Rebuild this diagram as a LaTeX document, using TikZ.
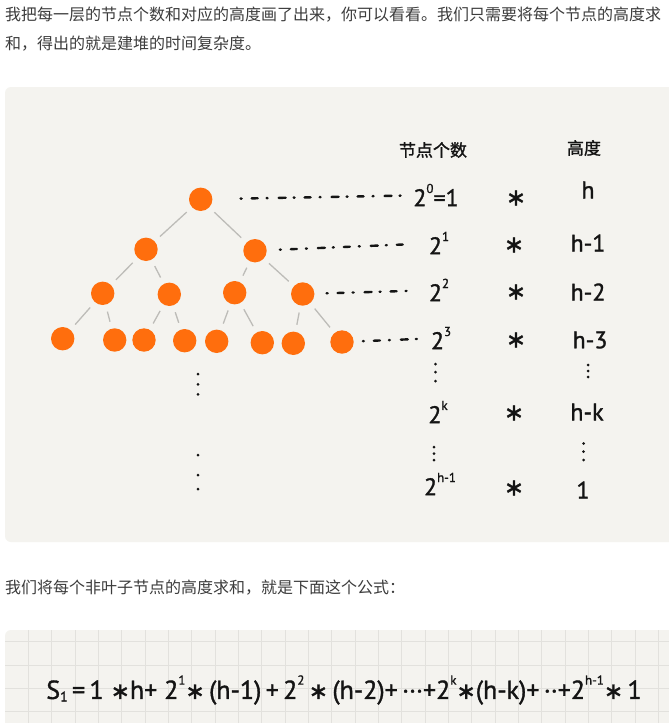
\documentclass[tikz,border=0pt]{standalone}
\usepackage{fontspec}
\setmainfont{PT Sans}
\newfontfamily\hand[FakeBold=1.3]{PT Sans}
\newfontfamily\cjk{Noto Sans CJK SC}
\newfontfamily\cjkhand[FakeBold=1.5]{Noto Sans CJK SC}
\newfontfamily\starfont[FakeBold=1.5]{DejaVu Sans}
\definecolor{panel}{HTML}{F4F3EF}
\definecolor{gridc}{HTML}{E2E1DD}
\definecolor{txt}{HTML}{3C3C3C}
\definecolor{orng}{HTML}{FF6E0D}
\definecolor{edgec}{HTML}{BDBCB8}
\definecolor{ink}{HTML}{141414}
\newcommand\hsup[1]{\raisebox{0.55em}{\fontsize{13}{13}\selectfont #1}}
\newcommand\fstar{{\starfont\fontsize{23}{23}\selectfont ∗}}
\tikzset{
  tn/.style={circle, fill=orng, minimum size=23.4pt, inner sep=0pt},
  tedge/.style={draw=edgec, line width=1.3pt, shorten <=7pt, shorten >=7pt},
  para/.style={font=\cjk\fontsize{16}{16}\selectfont, text=txt, anchor=west, inner sep=0pt},
  hw/.style={font=\hand\fontsize{24}{24}\selectfont, text=ink, inner sep=0pt},
  hstar/.style={font=\starfont\fontsize{24}{24}\selectfont, text=ink, inner sep=0pt},
  hhead/.style={font=\cjkhand\fontsize{17}{17}\selectfont, text=ink, inner sep=0pt},
  dotline/.style={draw=ink, line width=2.4pt, line cap=round, dash pattern=on 1pt off 10pt on 6pt off 9pt on 1pt off 11pt on 7pt off 8pt},
  vdot/.style={fill=ink},
  gridline/.style={draw=gridc, line width=0.9pt}
}
\begin{document}
\begin{tikzpicture}[x=1pt,y=-1pt]
\useasboundingbox (0,0) rectangle (669,723);
\fill[white] (0,0) rectangle (669,723);
\begin{scope}
\clip (0,0) rectangle (669,723);
\fill[panel, rounded corners=6pt] (5,87) rectangle (700,542);
\fill[panel, rounded corners=6pt] (5,630) rectangle (700,760);
\clip[rounded corners=6pt] (5,630) rectangle (700,760);
\foreach \k in {0,...,27} \draw[gridline] (28.33+23.333*\k,630) -- ++(0,100);
\foreach \k in {0,...,4} \draw[gridline] (5,641.67+23.333*\k) -- (669,641.67+23.333*\k);
\end{scope}

% paragraphs
\node[para] (p1) at (5,15) {我把每一层的节点个数和对应的高度画了出来，你可以看看。我们只需要将每个节点的高度求};
\node[para] (p2) at (5,44) {和，得出的就是建堆的时间复杂度。};
\node[para] (p3) at (5,588) {我们将每个非叶子节点的高度求和，就是下面这个公式：};

% tree
\node[tn] (n0) at (200.7,199.3) {};
\node[tn] (n1a) at (146,249.3) {};
\node[tn] (n1b) at (255,250.7) {};
\node[tn] (n2a) at (102.7,293.3) {};
\node[tn] (n2b) at (169.3,294.3) {};
\node[tn] (n2c) at (234.7,292.7) {};
\node[tn] (n2d) at (302.7,294) {};
\node[tn] (n3a) at (62.7,338.7) {};
\node[tn] (n3b) at (114.7,340) {};
\node[tn] (n3c) at (144,340) {};
\node[tn] (n3d) at (184.7,340.7) {};
\node[tn] (n3e) at (216.7,341.3) {};
\node[tn] (n3f) at (262.3,342.7) {};
\node[tn] (n3g) at (293.3,343.3) {};
\node[tn] (n3h) at (342,342) {};
\foreach \a/\b in {n0/n1a,n0/n1b,n1a/n2a,n1a/n2b,n1b/n2c,n1b/n2d,n2a/n3a,n2a/n3b,n2b/n3c,n2b/n3d,n2c/n3e,n2c/n3f,n2d/n3g,n2d/n3h}
  \draw[tedge] (\a) -- (\b);

% vertical dots under tree
\foreach \y in {374,384.3,394.3,455,475,489} \fill[vdot] (198,\y) circle (1.5pt);

% headers
\node[hhead] (hd1) at (433,150) {节点个数};
\node[hhead] (hd2) at (584,148) {高度};

% counts
\node[hw] (c0) at (436,195) {2\hsup{0}=1};
\node[hw] (c1) at (439,243) {2\hsup{1}};
\node[hw] (c2) at (439,290) {2\hsup{2}};
\node[hw] (c3) at (441,338) {2\hsup{3}};
\node[hw] (ck) at (438,412) {2\hsup{k}};
\node[hw] (ch) at (440,484) {2\hsup{h-1}};

% stars
\node[hstar] (s0) at (516,198) {∗};
\node[hstar] (s1) at (514,245) {∗};
\node[hstar] (s2) at (516,292) {∗};
\node[hstar] (s3) at (516,340) {∗};
\node[hstar] (sk) at (514,413) {∗};
\node[hstar] (sh) at (514,488) {∗};

% heights
\node[hw] (h0) at (588,190) {h};
\node[hw] (h1) at (588,243) {h-1};
\node[hw] (h2) at (588,292) {h-2};
\node[hw] (h3) at (590,340) {h-3};
\node[hw] (hk) at (587,412) {h-k};
\node[hw] (hh) at (583,490) {1};

% vertical dots in columns
\foreach \y in {364,372,381} \fill[vdot] (435.5,\y) circle (1.5pt);
\foreach \y in {365,371,377} \fill[vdot] (588,\y) circle (1.5pt);
\foreach \y in {447,453.5,460} \fill[vdot] (434,\y) circle (1.5pt);
\foreach \y in {443.5,451.7,460} \fill[vdot] (583.5,\y) circle (1.5pt);

% dotted connectors
\draw[dotline, shorten <=28pt, shorten >=5pt] (n0) -- (c0);
\draw[dotline, shorten <=13pt, shorten >=22pt] (n1b) -- (c1);
\draw[dotline, shorten <=12pt, shorten >=14pt] (n2d) -- (c2);
\draw[dotline, shorten <=9pt, shorten >=9pt] (n3h) -- (c3);

% formula
\node[hw, anchor=center, font=\hand\fontsize{26}{26}\selectfont] (f) at (344,690) {S\raisebox{-0.1em}{\fontsize{14}{14}\selectfont 1}\,=\,1 \fstar h+ 2\hsup{1}\fstar\,(h-1)\,+\,2\hsup{2}\,\fstar\,(h-2)+\,···+2\hsup{k}\fstar(h-k)+\,··+2\hsup{h-1}\fstar\,1};
\end{tikzpicture}
\end{document}
